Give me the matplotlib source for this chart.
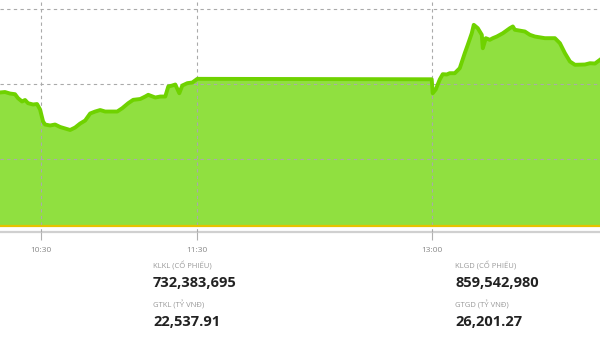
import matplotlib.pyplot as plt

# intraday index, time in minutes since midnight
minutes = [614.23, 616.15, 618.08, 620.0, 621.15, 622.69, 623.85, 625.0, 626.92, 628.46,
           629.62, 630.77, 631.54, 633.46, 635.38, 637.31, 639.23, 641.15, 643.08, 645.0,
           646.92, 648.85, 650.77, 652.69, 654.62, 656.54, 659.23, 661.15, 663.46, 665.38,
           668.08, 670.0, 671.15, 673.85, 675.77, 677.69, 678.85, 680.38, 681.54, 683.08,
           684.23, 686.15, 688.08, 690.0,
           780.0, 780.38, 781.54, 783.08, 784.23, 785.77, 786.92, 788.85, 790.77, 792.69,
           793.85, 795.38, 796.15, 797.69, 799.23, 799.62, 800.77, 802.31, 803.46, 805.0,
           807.31, 810.0, 811.15, 811.92, 815.77, 817.69, 819.62, 823.46, 827.31, 829.23,
           831.15, 833.08, 835.0, 838.85, 840.77, 842.69, 844.62]
index = [1248.87, 1248.93, 1248.73, 1248.64, 1248.11, 1247.67, 1247.87, 1247.44, 1247.27, 1247.33,
         1246.60, 1245.00, 1244.60, 1244.47, 1244.60, 1244.27, 1244.07, 1243.87, 1244.20, 1244.73,
         1245.13, 1246.07, 1246.33, 1246.53, 1246.33, 1246.33, 1246.33, 1246.77, 1247.44, 1247.89,
         1248.00, 1248.33, 1248.56, 1248.20, 1248.33, 1248.33, 1249.67, 1249.80, 1249.93, 1248.77,
         1249.80, 1250.11, 1250.20, 1250.69,
         1250.63, 1248.77, 1249.27, 1250.60, 1251.31, 1251.27, 1251.44, 1251.44, 1252.11, 1254.11,
         1255.23, 1256.77, 1257.89, 1257.44, 1256.56, 1254.77, 1256.11, 1255.89, 1256.11, 1256.33,
         1256.77, 1257.44, 1257.67, 1257.23, 1257.00, 1256.56, 1256.33, 1256.11, 1256.11, 1255.44,
         1254.11, 1253.00, 1252.56, 1252.60, 1252.77, 1252.73, 1253.23]
ref_level = 1231.07
grid_levels = [1240, 1250, 1260]
tick_times = [630, 690, 780]
tick_labels = ['10:30', '11:30', '13:00']

stats_left = [('KLKL (CỔ PHIẾU)', '732,383,695'), ('GTKL (TỶ VNĐ)', '22,537.91')]
stats_right = [('KLGD (CỔ PHIẾU)', '859,542,980'), ('GTGD (TỶ VNĐ)', '26,201.27')]

plt.rcParams['font.family'] = ['Open Sans', 'DejaVu Sans']

fig = plt.figure(figsize=(6, 3.38), dpi=100)
ax = fig.add_axes([0, 1 - 232 / 338, 1, 232 / 338])

ax.fill_between(minutes, index, ref_level, color='#90e040', lw=0, zorder=1)
ax.plot(minutes, index, color='#6fd200', lw=2.8, zorder=3)
ax.axhline(ref_level, color='#e6c200', lw=1.6, zorder=4)

ax.set_xlim(614.23, 844.62)
ax.set_ylim(1230.27, 1261.2)
ax.set_yticks(grid_levels)
ax.set_yticklabels([])
ax.set_xticks(tick_times)
ax.set_xticklabels(tick_labels)
ax.tick_params(axis='y', length=0)
ax.tick_params(axis='x', length=6, color='#b0b0b0', width=0.8, labelsize=6,
               labelcolor='#888888', pad=5)
ax.grid(True, color='#aaaaaa', linestyle=(0, (3, 3)), lw=0.8, zorder=2)
ax.set_axisbelow(False)
for side in ['top', 'left', 'right']:
    ax.spines[side].set_visible(False)
ax.spines['bottom'].set_color('#d0d0d0')
ax.spines['bottom'].set_linewidth(1.6)

def stat_block(x, items):
    y = 266
    for label, value in items:
        fig.text(x / 600, 1 - y / 338, label, fontsize=5.5, color='#999999', va='center')
        fig.text(x / 600, 1 - (y + 17) / 338, value, fontsize=10.5, fontweight='bold',
                 color='#222222', va='center')
        y += 39

stat_block(153, stats_left)
stat_block(455, stats_right)

fig.savefig('out.png', dpi=100)
